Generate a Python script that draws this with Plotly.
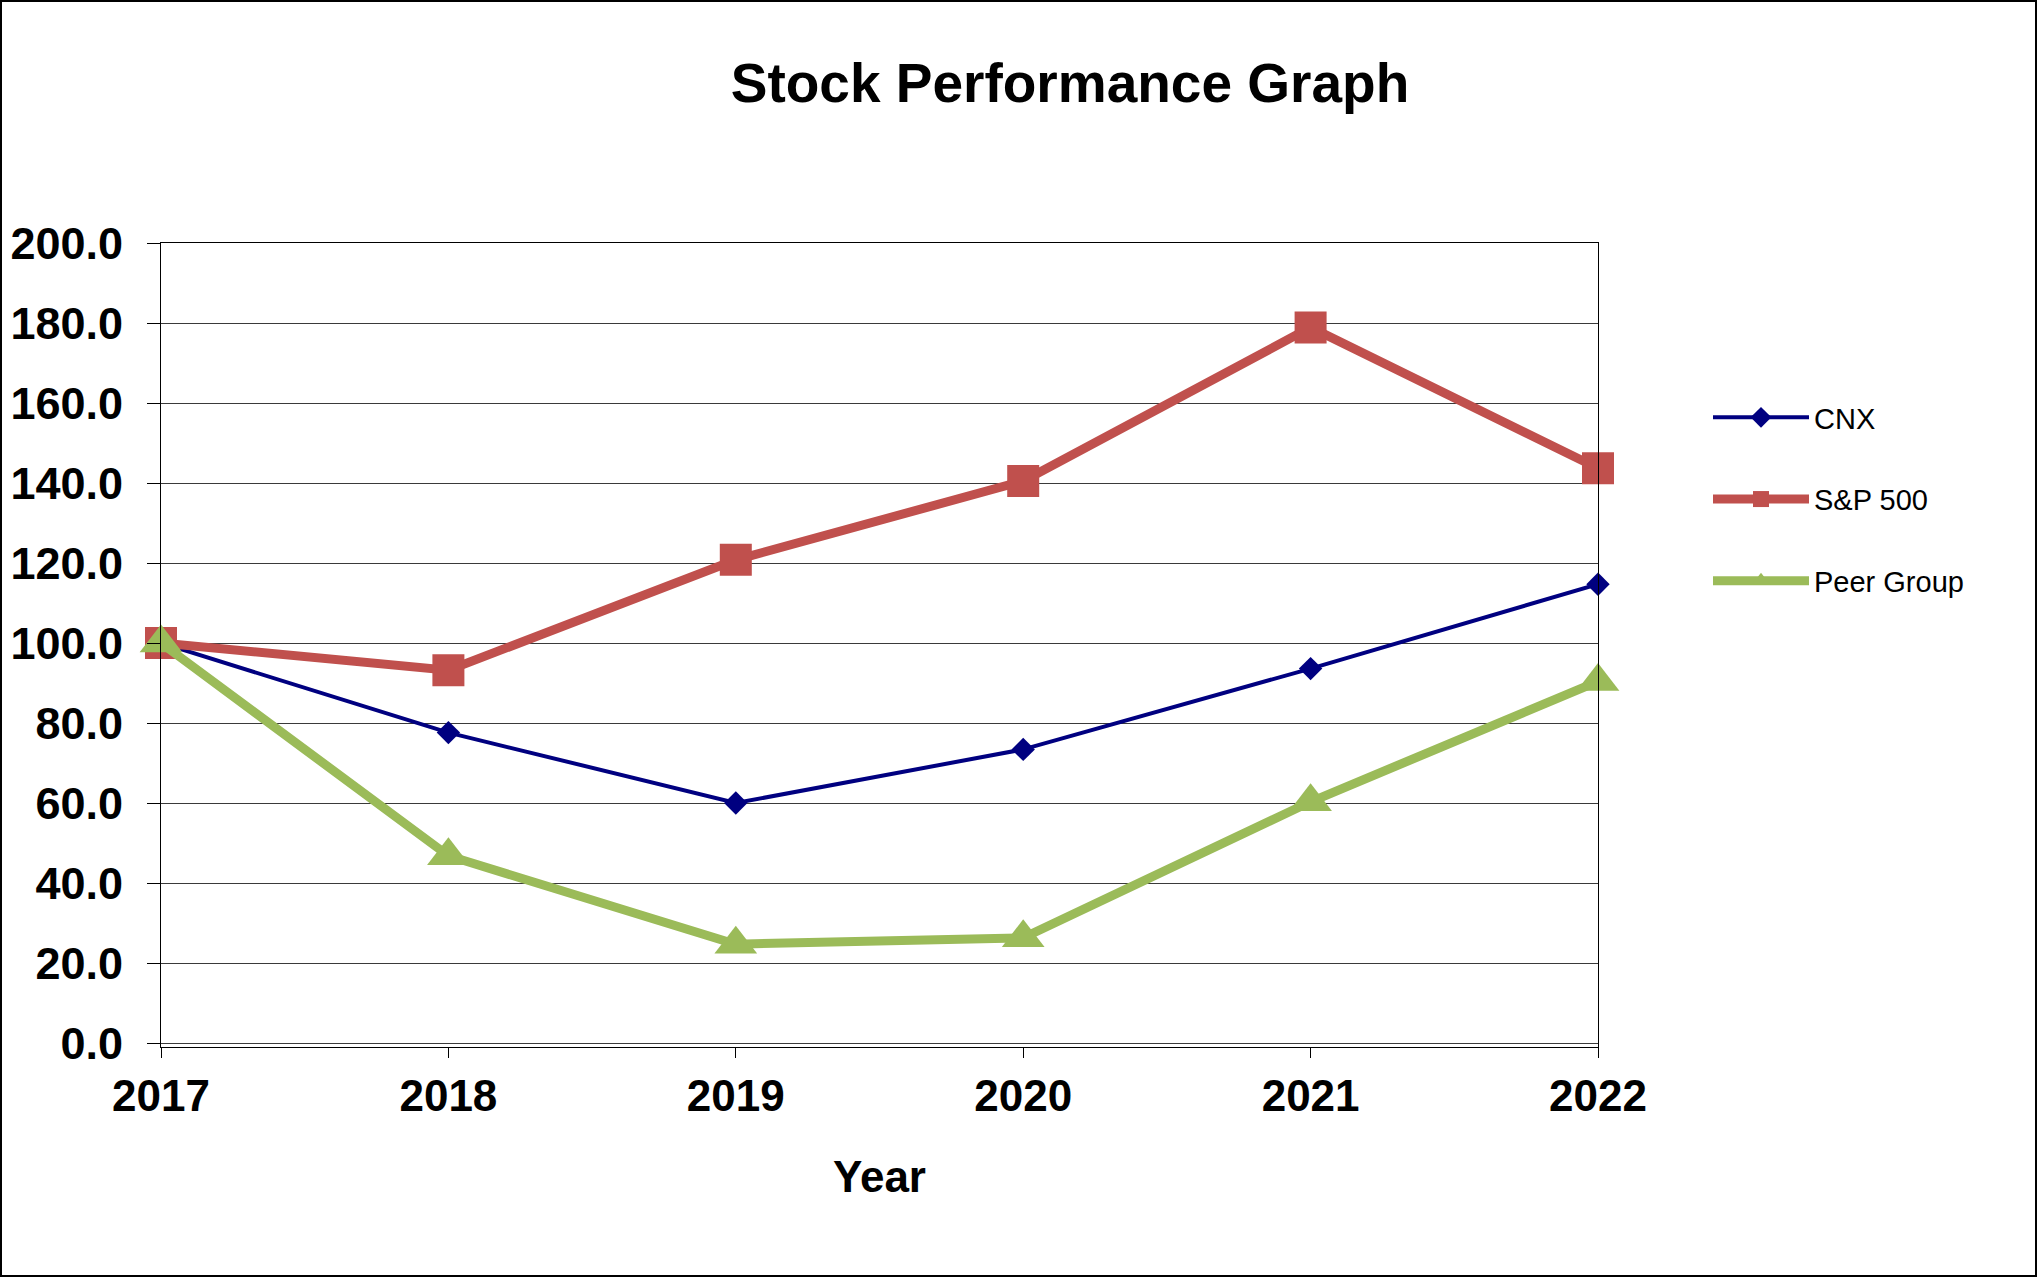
import plotly.graph_objects as go

years = [2017, 2018, 2019, 2020, 2021, 2022]
cnx = [100.0, 77.6, 60.0, 73.4, 93.6, 114.7]
sp500 = [100.0, 93.2, 120.8, 140.5, 178.9, 143.7]
peer = [100.0, 46.8, 24.7, 26.3, 60.3, 90.4]
y_ticks = [0, 20, 40, 60, 80, 100, 120, 140, 160, 180, 200]
y_labels = [f"{v:.1f}" for v in y_ticks]

W, H = 2038, 1277
ML, MR, MT, MB = 161, 440, 243, 230
PW, PH = W - ML - MR, H - MT - MB
FONT = "Liberation Sans, Arial, sans-serif"

fig = go.Figure()
fig.add_trace(go.Scatter(
    x=years, y=cnx, name="CNX", mode="lines+markers", legendgroup="a",
    line=dict(color="#000080", width=4),
    marker=dict(symbol="diamond", size=18, color="#000080"),
    cliponaxis=False))
fig.add_trace(go.Scatter(
    x=years, y=sp500, name="S&P 500", mode="lines+markers", legendgroup="b",
    line=dict(color="#C0504D", width=9),
    marker=dict(symbol="square", size=32, color="#C0504D"),
    cliponaxis=False))
fig.add_trace(go.Scatter(
    x=years, y=peer, name="Peer Group", mode="lines+markers", legendgroup="c",
    line=dict(color="#9BBB59", width=9),
    marker=dict(symbol="triangle-up", size=37, color="#9BBB59"),
    cliponaxis=False))

fig.update_layout(
    width=W, height=H,
    margin=dict(l=ML, r=MR, t=MT, b=MB, pad=0, autoexpand=False),
    paper_bgcolor="white", plot_bgcolor="white",
    font=dict(family=FONT, color="black"),
    title=dict(text="<b>Stock Performance Graph</b>", font=dict(size=55, color="black"),
               xref="container", yref="container", x=1070 / W, y=1 - 83 / H,
               xanchor="center", yanchor="middle"),
    xaxis=dict(range=[2017, 2022], tickvals=years, ticktext=[f"<b>{y}</b>" for y in years],
               showgrid=False, zeroline=False, showline=True, linecolor="black", linewidth=1,
               mirror=True, ticks="outside", ticklen=10, tickcolor="black", automargin=False,
               tickfont=dict(size=44),
               title=dict(text="<b>Year</b>", font=dict(size=44), standoff=42)),
    yaxis=dict(range=[-1, 200], tickvals=y_ticks, ticktext=[f"<b>{t}</b>" for t in y_labels],
               showgrid=True, gridcolor="#3a3a3a", gridwidth=1, zeroline=False,
               showline=True, linecolor="black", linewidth=1, mirror=True, automargin=False,
               ticks="outside", ticklen=13, tickcolor="black", ticklabelstandoff=15,
               tickfont=dict(size=45)),
    legend=dict(x=(1708 - ML) / PW, y=(1047 - 392) / PH, xanchor="left", yanchor="top",
                font=dict(size=29, color="black"), itemwidth=96,
                tracegroupgap=41, bgcolor="rgba(0,0,0,0)", itemsizing="trace"),
    showlegend=True,
)

fig.add_shape(type="rect", xref="paper", yref="paper",
              x0=(1 - ML) / PW, x1=(2036 - ML) / PW,
              y0=(MT + PH - 1276) / PH, y1=(MT + PH - 1) / PH,
              line=dict(color="black", width=2), fillcolor="rgba(0,0,0,0)", layer="below")

fig.write_html("out.html", config={"displayModeBar": False},
               post_script="document.body.style.margin='0';")
